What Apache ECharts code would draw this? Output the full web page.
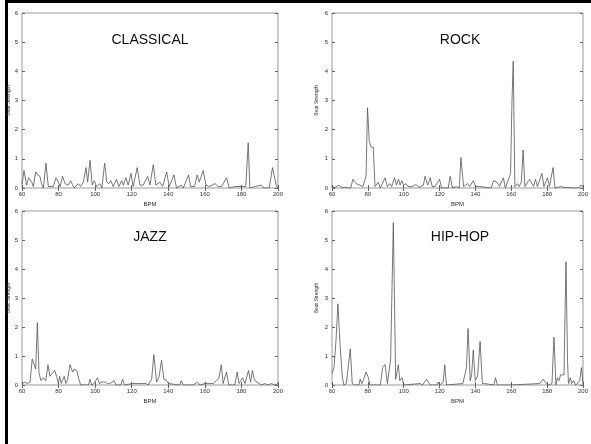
<!DOCTYPE html>
<html>
<head>
<meta charset="utf-8">
<script src="https://cdn.jsdelivr.net/npm/echarts@6/dist/echarts.min.js"></script>
<style>
html,body{margin:0;padding:0;background:#fff;}
#c{width:591px;height:444px;}
</style>
</head>
<body>
<div id="c"></div>
<script>
const genres = ["CLASSICAL", "ROCK", "JAZZ", "HIP-HOP"];
const xTicks = [60, 80, 100, 120, 140, 160, 180, 200];
const yTicks = [0, 1, 2, 3, 4, 5, 6];

const classicalBpm = [60,61.1,62.5,63.6,65.3,66.2,67.5,68.6,69.8,70.7,71.7,73.1,74.4,77.1,78.6,79.9,80.8,82.2,83.5,84.4,85.3,86.6,87.7,88.6,90.8,92.1,93.5,95,95.9,97.2,98.4,99.5,100.8,102.6,103.7,105.2,106.4,107.5,108.6,109.9,111.7,113,114.5,115.4,116.8,118.1,119.6,120.8,123,124.5,126.3,127.2,128.7,130,131.8,133.2,135.4,136.9,139.1,140.5,143.1,144.5,147.1,148.2,151.1,152.2,154.4,155.8,156.9,159.1,160.6,162.4,165.5,167.3,169.1,171.9,173.3,176.4,179.2,181,182.4,183.7,184.6,187.3,191,192.3,195.2,197,199.2,200];
const classicalStrength = [0.12,0.6,0.1,0.35,0.2,0.05,0.55,0.45,0.4,0.15,0,0.85,0.05,0.05,0.35,0.2,0.05,0.4,0.15,0.2,0.1,0.25,0.1,0,0.15,0.05,0.2,0.7,0.2,0.95,0.1,0.25,0.05,0.15,0,0.85,0.2,0.15,0.25,0.05,0.3,0.05,0.25,0.1,0.35,0.1,0.5,0.05,0.7,0.1,0.1,0.05,0.4,0.1,0.8,0.1,0.2,0.05,0.55,0.05,0.45,0,0.1,0,0.45,0.05,0.05,0.45,0.2,0.6,0.1,0.05,0.15,0.05,0.05,0.35,0,0.05,0.05,0.05,0.05,1.55,0,0.05,0.1,0,0,0.7,0.05,0];

const rockBpm = [60,61,64,65.5,67.7,69,70.4,71.7,73.5,75.4,77.2,79,79.8,80.8,81.8,83,84,85.8,86.9,89.6,90.9,92.2,93.3,94.9,96,97.1,98,98.9,100,101.3,102.4,104.6,106.8,108.6,111,111.9,113.4,114.8,115.9,117.4,120,121.1,124.8,125.9,127.2,129.6,131,131.9,133.4,135.6,136.8,138.8,140.1,142.5,143.2,148.8,150.1,152,153.4,155.6,156.7,159.6,160.4,161.1,162,163.5,164.4,165.6,166.6,167.6,170.2,171.3,172.4,173.5,174.6,177.1,178.2,180.2,181.3,183.3,184.4,187.5,189.3,192.1,193.9,197.5,198.8,200];
const rockStrength = [0.1,0,0.1,0,0.03,0,0,0.3,0.15,0.1,0.05,0.4,2.75,1.6,1.4,1.4,0.05,0.2,0,0.35,0.05,0.15,0.05,0.35,0.1,0.3,0.1,0.25,0.1,0.15,0.05,0.05,0.12,0.02,0.1,0.4,0.1,0.35,0.05,0.05,0.3,0,0,0.4,0,0.05,0,1.05,0.05,0.15,0.05,0.25,0.05,0.05,0,0,0.25,0.2,0.05,0.35,0,0.5,3.0,4.35,0.05,0.15,0.05,0.2,1.3,0.05,0.3,0.3,0.05,0.3,0.05,0.5,0.05,0.35,0.05,0.7,0,0.05,0.02,0.02,0,0,0.1,0.05];

const jazzBpm = [60,61.6,62.9,64.4,65.6,66.6,67.5,68.4,69.3,70.4,71.7,73,74.2,75.3,76.6,77.9,78.9,79.9,80.6,81.5,83.1,84,85,86.2,87.7,88.6,89.9,91.1,92.1,96.3,97.2,98.1,99.3,101.3,102.3,103.5,104.4,105.7,106.8,108,110.3,111.4,114,115,116.1,120.3,125.9,127.8,129,130.9,132.1,133.6,135,136.3,137.6,139,140.1,146.2,147.1,148.2,153.5,154.5,156,157.3,160,162.7,164.6,166.4,167.7,169,170,171.8,173.1,176.4,177.7,178.7,180.6,181.9,183.9,185,186,187,188.3,189.2,191,192.8,194.6,196.4,198.3,200];
const jazzStrength = [0.05,0.1,0.05,0.1,0.9,0.85,0.55,2.15,0.4,0.15,0.25,0.15,0.7,0.3,0.4,0.5,0.3,0.05,0.3,0.05,0.3,0.05,0.2,0.7,0.45,0.55,0.5,0.2,0,0,0.2,0,0.05,0.25,0.05,0.1,0.05,0.1,0.05,0.05,0.15,0,0,0.2,0,0.05,0.05,0.05,0,0.2,1.05,0.1,0.3,0.85,0.2,0.15,0.05,0,0.15,0,0,0.05,0.1,0,0.05,0.05,0.05,0.15,0.25,0.7,0.05,0.45,0,0,0.45,0.05,0.25,0.05,0.5,0.1,0.5,0.2,0.1,0.05,0,0.05,0,0.05,0,0.05];

const hiphopBpm = [60,61.1,62.2,63.3,64.4,65.7,66.6,68,69,70.2,71.3,72.6,75,75.7,76.6,77.7,79,80.3,81.2,87,88.2,89.6,90.9,92.7,94.2,95.5,97,97.8,99.1,100,109.2,110.5,112.8,113.7,114.7,118.5,119.2,120.1,122,122.9,123.8,133,133.9,135,135.9,137.1,137.9,138.8,139.9,141.2,142.6,143.9,145.2,146.1,150.3,151.2,152.3,159.8,160,160.2,175.9,177.7,179.6,180.8,182.7,183.8,184.9,185.7,186.6,187.5,188.5,189.4,190.5,191.4,191.9,192.9,193.7,194.7,196,198.2,199.1,200];
const hiphopStrength = [0.4,0.6,1.5,2.8,1.5,0.3,0,0.05,0.1,1.25,0.05,0,0,0.2,0.05,0.2,0.45,0.25,0,0,0.6,0.7,0.05,0.9,5.6,0.2,0.7,0.15,0.25,0,0.05,0,0.2,0.15,0,0,0.1,0,0.1,0.7,0,0.05,0.1,0.6,1.95,0.15,0.35,1.2,0.15,0.3,1.5,0.05,0.05,0,0,0.25,0,0,0.05,0,0.05,0.2,0.05,0,0.05,1.65,0,0.25,0.15,0.35,0.4,0.35,4.25,0.8,0.05,0.25,0.05,0.15,0,0.15,0.6,0.05];

const bpmSets = [classicalBpm, rockBpm, jazzBpm, hiphopBpm];
const strengthSets = [classicalStrength, rockStrength, jazzStrength, hiphopStrength];

const FONT = "Liberation Sans";
const grids = [
  {left: 22, top: 13, width: 256, height: 175},
  {left: 332, top: 13, width: 255, height: 175},
  {left: 22, top: 211, width: 256, height: 174},
  {left: 332, top: 211, width: 255, height: 174}
];
const titlePos = [[150, 33], [460, 33], [150, 230], [460, 230]];
const yNameGap = [11, 13, 11, 13];

const chart = echarts.init(document.getElementById('c'), null, {renderer: 'canvas'});
const option = {
  backgroundColor: '#fff',
  animation: false,
  title: genres.map((g, i) => ({
    text: g, left: titlePos[i][0], top: titlePos[i][1], textAlign: 'center', padding: 0,
    textStyle: {fontFamily: FONT, fontSize: 14, fontWeight: 'normal', color: '#111'}
  })),
  grid: grids.map(g => Object.assign({show: true, borderColor: '#999', borderWidth: 1, backgroundColor: 'transparent'}, g)),
  xAxis: [],
  yAxis: [],
  series: [],
  graphic: [
    {type: 'rect', shape: {x: 5, y: 0, width: 3, height: 444}, style: {fill: '#000'}, silent: true, z: -1},
    {type: 'rect', shape: {x: 5, y: 0, width: 586, height: 3}, style: {fill: '#000'}, silent: true, z: -1}
  ]
};

for (let i = 0; i < 4; i++) {
  option.xAxis.push({
    type: 'value', gridIndex: i, min: xTicks[0], max: xTicks[xTicks.length - 1], interval: 20,
    position: 'bottom', name: 'BPM', nameLocation: 'middle', nameGap: 13,
    nameTextStyle: {fontFamily: FONT, fontSize: 6, color: '#333'},
    axisLine: {show: false},
    axisTick: {show: true, inside: true, length: 3, lineStyle: {color: '#666'}},
    axisLabel: {fontFamily: FONT, fontSize: 6, color: '#333', margin: 3},
    splitLine: {show: false}
  });
  option.xAxis.push({
    type: 'value', gridIndex: i, min: xTicks[0], max: xTicks[xTicks.length - 1], interval: 20,
    position: 'top', axisLine: {show: false},
    axisTick: {show: true, inside: true, length: 3, lineStyle: {color: '#666'}},
    axisLabel: {show: false}, splitLine: {show: false}
  });
  option.yAxis.push({
    type: 'value', gridIndex: i, min: yTicks[0], max: yTicks[yTicks.length - 1], interval: 1,
    position: 'left', name: 'Beat Strength', nameLocation: 'middle', nameGap: yNameGap[i], nameRotate: 90,
    nameTextStyle: {fontFamily: FONT, fontSize: 5, color: '#333'},
    axisLine: {show: false},
    axisTick: {show: true, inside: true, length: 3, lineStyle: {color: '#666'}},
    axisLabel: {fontFamily: FONT, fontSize: 6, color: '#333', margin: 4},
    splitLine: {show: false}
  });
  option.yAxis.push({
    type: 'value', gridIndex: i, min: yTicks[0], max: yTicks[yTicks.length - 1], interval: 1,
    position: 'right', axisLine: {show: false},
    axisTick: {show: true, inside: true, length: 3, lineStyle: {color: '#666'}},
    axisLabel: {show: false}, splitLine: {show: false}
  });
  option.series.push({
    type: 'line', xAxisIndex: i * 2, yAxisIndex: i * 2,
    data: bpmSets[i].map((b, k) => [b, strengthSets[i][k]]),
    symbol: 'none', clip: true,
    lineStyle: {color: '#555', width: 0.8},
    emphasis: {disabled: true}
  });
}
chart.setOption(option);
</script>
</body>
</html>
